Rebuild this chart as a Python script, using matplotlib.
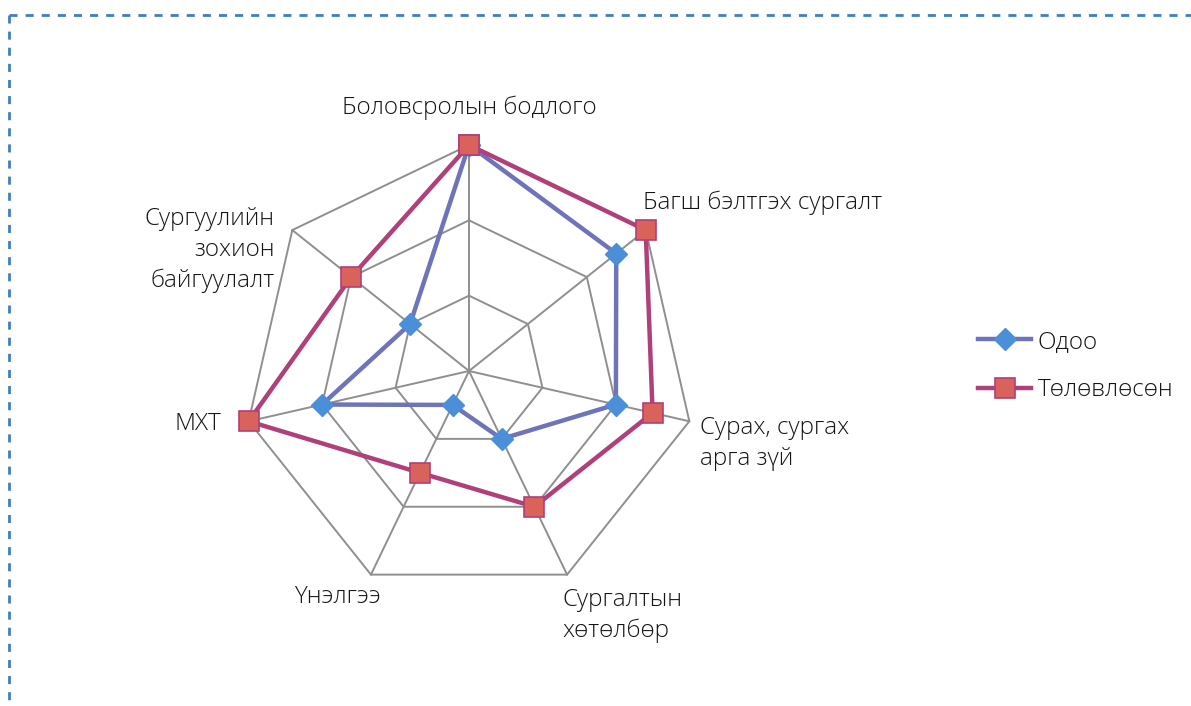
import matplotlib
matplotlib.use("Agg")
import matplotlib.pyplot as plt
import numpy as np
from matplotlib.lines import Line2D

plt.rcParams['font.family'] = ['Open Sans', 'DejaVu Sans']

# axes of the radar, clockwise from the top
categories = ['Боловсролын бодлого', 'Багш бэлтгэх сургалт', 'Сурах, сургах\nарга зүй',
              'Сургалтын\nхөтөлбөр', 'Үнэлгээ', 'МХТ', 'Сургуулийн\nзохион\nбайгуулалт']
odoo = [3, 2.5, 2, 1, 0.5, 2, 1]
tolovlosen = [3, 3, 2.5, 2, 1.5, 3, 2]
series_names = ['Одоо', 'Төлөвлөсөн']
rings = [1, 2, 3]

W, H = 1191, 706
fig = plt.figure(figsize=(W / 100, H / 100), dpi=100)

cx, cy, R = 469, 371, 226
ax = fig.add_axes([(cx - R) / W, (H - cy - R) / H, 2 * R / W, 2 * R / H], projection='polar')
ax.set_theta_offset(np.pi / 2)
ax.set_theta_direction(-1)
ax.set_ylim(0, rings[-1])
ax.grid(False)
ax.set_xticks([])
ax.set_yticks([])
ax.spines['polar'].set_visible(False)
ax.patch.set_visible(False)

n = len(categories)
angles = np.arange(n) * 2 * np.pi / n
closed = np.append(angles, angles[0])

grid_col = '#8f8f8f'
for lvl in rings:
    ax.plot(closed, [lvl] * (n + 1), color=grid_col, lw=1.4, clip_on=False, zorder=1)
for a in angles:
    ax.plot([a, a], [0, rings[-1]], color=grid_col, lw=1.4, clip_on=False, zorder=1)

blue_style = dict(color='#6e73ba', lw=3.2, marker='D', ms=11, mfc='#4a8fd8', mec='#4a8fd8')
red_style = dict(color='#b0407a', lw=3.2, marker='s', ms=14, mfc='#d9625a', mec='#b0407a', mew=1.2)

ax.plot(closed, np.append(odoo, odoo[0]), clip_on=False, zorder=2, **blue_style)
ax.plot(closed, np.append(tolovlosen, tolovlosen[0]), clip_on=False, zorder=3, **red_style)

fs = 17.5
txt_col = '#151515'
# category labels: (offset in pixels from outer vertex, ha)
label_pos = [((0, 37), 'center'),
             ((-3, 27), 'left'),
             ((11, -22), 'left'),
             ((-5, -41), 'left'),
             ((-34, -22), 'center'),
             ((-27, -3), 'right'),
             ((-18, -20), 'right')]
for a, lab, (off, ha) in zip(angles, categories, label_pos):
    ax.annotate(lab, xy=(a, rings[-1]), xytext=off, textcoords='offset pixels',
                ha=ha, va='center', fontsize=fs, fontweight='light', color=txt_col,
                linespacing=1.36, multialignment=ha, annotation_clip=False)

handles = [Line2D([], [], **blue_style), Line2D([], [], **red_style)]
fig.legend(handles, series_names, loc='center left', bbox_to_anchor=(956 / W, 1 - 366 / H),
           frameon=False, handlelength=2.2, labelspacing=1.0, handletextpad=0.25,
           prop=dict(size=fs, weight='light'), labelcolor=txt_col)

# dashed frame (top and left)
frame_kw = dict(color='#3e7ec3', lw=2, linestyle=(0, (2.9, 2.9)), transform=None)
fig.add_artist(Line2D([9, W], [H - 15, H - 15], **frame_kw))
fig.add_artist(Line2D([9, 9], [H - 15, 0], **frame_kw))

fig.savefig('out.png', dpi=100, facecolor='white')
